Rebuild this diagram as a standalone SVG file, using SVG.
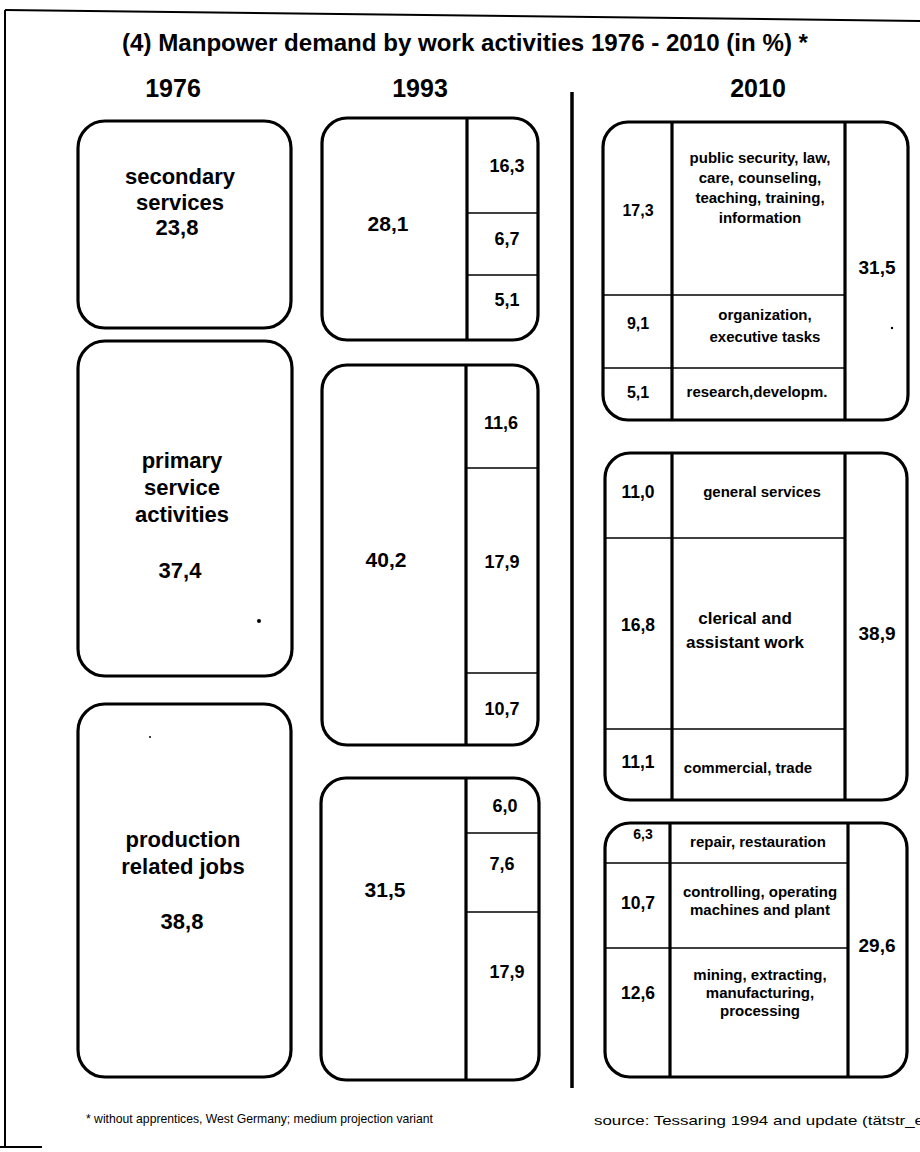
<svg xmlns="http://www.w3.org/2000/svg" width="920" height="1152" viewBox="0 0 920 1152">
<style>
.box{fill:#fff;stroke:#000;stroke-width:3.2}
.vd{stroke:#000;stroke-width:3.2;fill:none}
.hd{stroke:#000;stroke-width:1.5;fill:none}
text{font-family:"Liberation Sans",Arial,sans-serif;font-weight:bold;fill:#000;text-anchor:middle}
.t76{font-size:22px}
.n93{font-size:21px}
.s93{font-size:18px}
.lab{font-size:15px}
.lab2{font-size:17px}
.n10{font-size:16px}
.n10b{font-size:17.5px}
.big{font-size:19px}
.foot{font-weight:normal;font-size:13px;text-anchor:start}
</style>
<rect width="920" height="1152" fill="#fff"/>
<g id="frame" fill="none" stroke="#000">
<line x1="5" y1="10" x2="920" y2="21" stroke-width="2"/>
<line x1="5" y1="10" x2="5" y2="1147" stroke-width="2"/>
<line x1="0" y1="1147" x2="42" y2="1147" stroke-width="2"/>
</g>
<text id="title" x="465" y="51" font-size="24" textLength="686" lengthAdjust="spacingAndGlyphs">(4) Manpower demand by work activities 1976 - 2010 (in %) *</text>
<g id="headings" font-size="25">
<text x="173" y="97">1976</text>
<text x="420" y="97">1993</text>
<text x="758" y="97">2010</text>
</g>
<g id="connectors">
<line x1="572" y1="92" x2="572" y2="1088" stroke="#000" stroke-width="3.5"/>
</g>
<g id="n1976-secondary">
<rect class="box" x="78" y="121" width="213" height="207" rx="27"/>
<text class="t76" x="180" y="184">secondary</text>
<text class="t76" x="180" y="210">services</text>
<text class="t76" x="177" y="235">23,8</text>
</g>
<g id="n1976-primary">
<rect class="box" x="78" y="341" width="214" height="335" rx="27"/>
<text class="t76" x="182" y="468">primary</text>
<text class="t76" x="182" y="495">service</text>
<text class="t76" x="182" y="522">activities</text>
<text class="t76" x="180" y="578">37,4</text>
<circle cx="259" cy="621" r="2" fill="#000"/>
</g>
<g id="n1976-production">
<rect class="box" x="78" y="704" width="213" height="373" rx="27"/>
<text class="t76" x="183" y="847">production</text>
<text class="t76" x="183" y="874">related jobs</text>
<text class="t76" x="182" y="929">38,8</text>
<circle cx="150" cy="737" r="1" fill="#000"/>
</g>
<g id="n1993-secondary">
<rect class="box" x="322" y="118" width="216" height="222" rx="25"/>
<line class="vd" x1="467" y1="118" x2="467" y2="340"/>
<line class="hd" x1="467" y1="213" x2="538" y2="213"/>
<line class="hd" x1="467" y1="275" x2="538" y2="275"/>
<text class="n93" x="388" y="231">28,1</text>
<text class="s93" x="507" y="172">16,3</text>
<text class="s93" x="507" y="245">6,7</text>
<text class="s93" x="507" y="306">5,1</text>
</g>
<g id="n1993-primary">
<rect class="box" x="322" y="365" width="216" height="380" rx="25"/>
<line class="vd" x1="466" y1="365" x2="466" y2="745"/>
<line class="hd" x1="466" y1="468" x2="538" y2="468"/>
<line class="hd" x1="466" y1="673" x2="538" y2="673"/>
<text class="n93" x="386" y="567">40,2</text>
<text class="s93" x="501" y="429">11,6</text>
<text class="s93" x="502" y="568">17,9</text>
<text class="s93" x="502" y="715">10,7</text>
</g>
<g id="n1993-production">
<rect class="box" x="321" y="778" width="218" height="302" rx="25"/>
<line class="vd" x1="466" y1="778" x2="466" y2="1080"/>
<line class="hd" x1="466" y1="833" x2="539" y2="833"/>
<line class="hd" x1="466" y1="912" x2="539" y2="912"/>
<text class="n93" x="385" y="897">31,5</text>
<text class="s93" x="505" y="812">6,0</text>
<text class="s93" x="502" y="870">7,6</text>
<text class="s93" x="507" y="978">17,9</text>
</g>
<g id="n2010-secondary">
<rect class="box" x="603" y="122" width="305" height="298" rx="25"/>
<line class="vd" x1="672" y1="122" x2="672" y2="420"/>
<line class="vd" x1="845" y1="122" x2="845" y2="420"/>
<line class="hd" x1="603" y1="295" x2="845" y2="295"/>
<line class="hd" x1="603" y1="368" x2="845" y2="368"/>
<text class="n10" x="638" y="216">17,3</text>
<text class="lab" x="760" y="163">public security, law,</text>
<text class="lab" x="760" y="183">care, counseling,</text>
<text class="lab" x="760" y="203">teaching, training,</text>
<text class="lab" x="760" y="223">information</text>
<text class="big" x="877" y="274">31,5</text>
<text class="n10" x="638" y="329">9,1</text>
<text class="lab" x="765" y="320">organization,</text>
<text class="lab" x="765" y="342">executive tasks</text>
<text class="n10" x="638" y="398">5,1</text>
<text class="lab" x="757" y="397">research,developm.</text>
<circle cx="892" cy="328" r="1.2" fill="#000"/>
</g>
<g id="n2010-primary">
<rect class="box" x="605" y="453" width="302" height="347" rx="25"/>
<line class="vd" x1="672" y1="453" x2="672" y2="800"/>
<line class="vd" x1="845" y1="453" x2="845" y2="800"/>
<line class="hd" x1="605" y1="538" x2="845" y2="538"/>
<line class="hd" x1="605" y1="729" x2="845" y2="729"/>
<text class="n10b" x="638" y="498">11,0</text>
<text class="lab" x="762" y="497">general services</text>
<text class="n10b" x="638" y="631">16,8</text>
<text class="lab2" x="745" y="624">clerical and</text>
<text class="lab2" x="745" y="648">assistant work</text>
<text class="big" x="877" y="640">38,9</text>
<text class="n10b" x="638" y="768">11,1</text>
<text class="lab" x="748" y="773">commercial, trade</text>
</g>
<g id="n2010-production">
<rect class="box" x="605" y="823" width="302" height="254" rx="25"/>
<line class="vd" x1="670" y1="823" x2="670" y2="1077"/>
<line class="vd" x1="848" y1="823" x2="848" y2="1077"/>
<line class="hd" x1="605" y1="863" x2="848" y2="863"/>
<line class="hd" x1="605" y1="948" x2="848" y2="948"/>
<text x="643" y="839" font-size="14" font-weight="normal">6,3</text>
<text class="lab" x="758" y="847">repair, restauration</text>
<text class="n10b" x="638" y="909">10,7</text>
<text class="lab" x="760" y="897">controlling, operating</text>
<text class="lab" x="760" y="915">machines and plant</text>
<text class="big" x="877" y="952">29,6</text>
<text class="lab" x="760" y="980">mining, extracting,</text>
<text class="lab" x="760" y="998">manufacturing,</text>
<text class="lab" x="760" y="1016">processing</text>
<text class="n10b" x="638" y="999">12,6</text>
</g>
<g id="footer">
<text class="foot" x="86" y="1123" textLength="347" lengthAdjust="spacingAndGlyphs">* without apprentices, West Germany; medium projection variant</text>
<text class="foot" x="594" y="1125" textLength="330" lengthAdjust="spacingAndGlyphs">source: Tessaring 1994 and update (tätstr_e</text>
</g>
</svg>
